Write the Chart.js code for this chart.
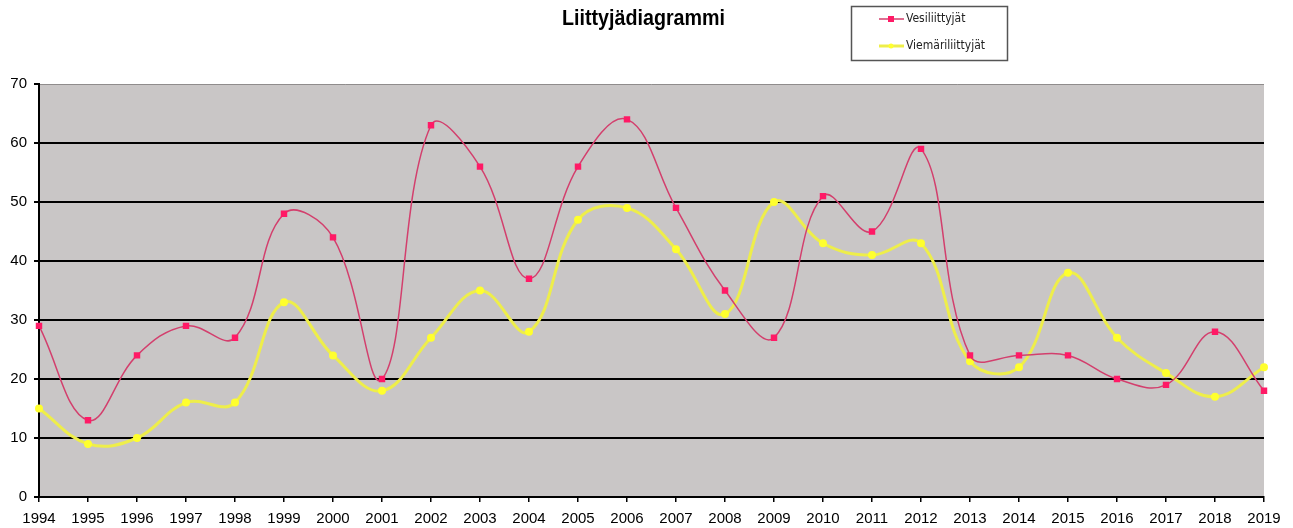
<!DOCTYPE html>
<html>
<head>
<meta charset="utf-8">
<script src="https://cdn.jsdelivr.net/npm/chart.js@4/dist/chart.umd.min.js"></script>
<style>
html,body{margin:0;padding:0;background:#fff;}
#wrap{width:1293px;height:528px;position:relative;}
</style>
</head>
<body>
<div id="wrap"><canvas id="c" width="1293" height="528"></canvas></div>
<script>
const titleText = "Liittyjädiagrammi";
const years = ["1994","1995","1996","1997","1998","1999","2000","2001","2002","2003","2004","2005","2006","2007","2008","2009","2010","2011","2012","2013","2014","2015","2016","2017","2018","2019"];
const vesiLabel = "Vesiliittyjät";
const vesi = [29,13,24,29,27,48,44,20,63,56,37,56,64,49,35,27,51,45,59,24,24,24,20,19,28,18];
const viemariLabel = "Viemäriliittyjät";
const viemari = [15,9,10,16,16,33,24,18,27,35,28,47,49,42,31,50,43,41,43,23,22,38,27,21,17,22];
const yTicks = [0,10,20,30,40,50,60,70];

const NARROW = '"Liberation Sans Narrow", "DejaVu Sans Condensed", "Liberation Sans", Arial, sans-serif';
const SANS = '"Liberation Sans", Arial, sans-serif';

const bgPlugin = {
  id: 'bg',
  beforeDraw(chart) {
    const {ctx, chartArea: a} = chart;
    ctx.save();
    ctx.fillStyle = '#c9c6c6';
    ctx.fillRect(a.left, a.top, a.right - a.left, a.bottom - a.top);
    ctx.strokeStyle = '#8f8c8c';
    ctx.lineWidth = 1;
    ctx.beginPath();
    ctx.moveTo(a.left, a.top + 0.5);
    ctx.lineTo(a.right, a.top + 0.5);
    ctx.stroke();
    ctx.restore();
  },
  afterDraw(chart) {
    const ctx = chart.ctx;
    ctx.save();
    // title (horizontally condensed)
    ctx.fillStyle = '#000';
    ctx.font = 'bold 22px ' + SANS;
    ctx.textBaseline = 'middle';
    ctx.textAlign = 'left';
    const w = ctx.measureText(titleText).width;
    const target = 163;
    ctx.save();
    ctx.translate(562, 19);
    ctx.scale(target / w, 1);
    ctx.fillText(titleText, 0, 0);
    ctx.restore();
    // legend box
    ctx.strokeStyle = '#555';
    ctx.lineWidth = 1.5;
    ctx.strokeRect(851.5, 6.5, 156, 54);
    const ds = chart.data.datasets;
    const rows = [19, 46];
    ds.forEach((d, i) => {
      const y = rows[i];
      ctx.strokeStyle = d.borderColor;
      ctx.lineWidth = d.borderWidth;
      ctx.beginPath();
      ctx.moveTo(879, y);
      ctx.lineTo(904, y);
      ctx.stroke();
      ctx.fillStyle = d.pointBackgroundColor;
      if (d.pointStyle === 'rect') ctx.fillRect(888, y - 3, 6, 6);
      else { ctx.beginPath(); ctx.arc(891, y, 2.5, 0, Math.PI*2); ctx.fill(); }
      ctx.fillStyle = '#222';
      ctx.font = '12px ' + NARROW;
      ctx.textAlign = 'left';
      ctx.textBaseline = 'middle';
      ctx.fillText(d.label, 906, y);
    });
    ctx.restore();
  }
};

new Chart(document.getElementById('c'), {
  type: 'line',
  data: {
    labels: years,
    datasets: [
      {
        label: vesiLabel,
        data: vesi,
        borderColor: '#d33f6d',
        borderWidth: 1.5,
        pointBackgroundColor: '#ff1a66',
        pointBorderColor: '#ff1a66',
        pointStyle: 'rect',
        pointRadius: 3.5,
        tension: 0.4,
        order: 1
      },
      {
        label: viemariLabel,
        data: viemari,
        borderColor: '#eeee4a',
        borderWidth: 3,
        pointBackgroundColor: '#ffff2e',
        pointBorderColor: '#ffff2e',
        pointStyle: 'circle',
        pointRadius: 2.5,
        tension: 0.4,
        order: 2
      }
    ]
  },
  options: {
    responsive: false,
    animation: false,
    layout: { padding: { top: 84, right: 29, left: 0, bottom: 0 } },
    plugins: {
      legend: { display: false },
      title: { display: false },
      tooltip: { enabled: false }
    },
    scales: {
      x: {
        offset: false,
        afterFit(s) { s.height = 31; },
        grid: { drawOnChartArea: false, drawTicks: true, tickLength: 5, color: '#000', lineWidth: 1.5 },
        border: { display: true, color: '#000', width: 2 },
        ticks: { color: '#000', font: { size: 15, family: SANS }, maxRotation: 0, autoSkip: false, padding: 8 }
      },
      y: {
        min: 0, max: 70,
        afterFit(s) { s.width = 39; },
        afterBuildTicks(s) { s.ticks = yTicks.map(v => ({ value: v })); },
        grid: {
          color: ctx => (ctx.tick && ctx.tick.value === 70) ? 'rgba(0,0,0,0)' : '#000',
          lineWidth: 2,
          drawTicks: true,
          tickLength: 5,
          tickColor: '#000'
        },
        border: { display: true, color: '#000', width: 2 },
        ticks: { color: '#000', font: { size: 15, family: SANS }, padding: 7 }
      }
    }
  },
  plugins: [bgPlugin]
});
</script>
</body>
</html>
